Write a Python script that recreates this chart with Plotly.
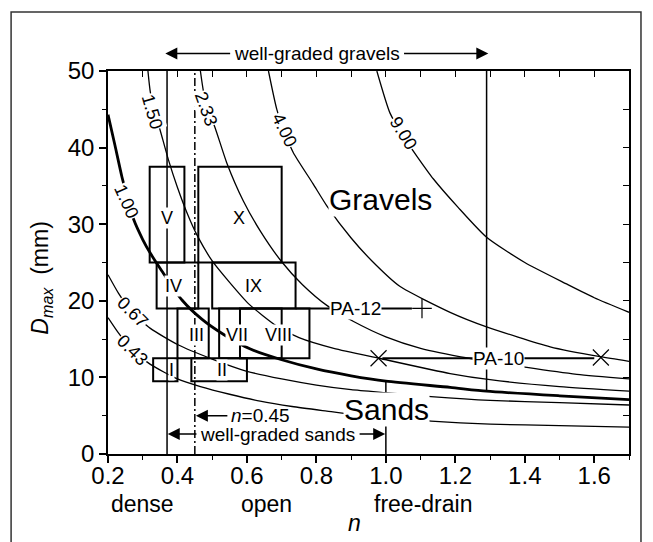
import plotly.graph_objects as go

FONT = "Liberation Sans, Arial, sans-serif"

# ---------------- data ----------------
# contour curves: porosity n vs Dmax (mm)
c900_n = [0.974, 1.012, 1.05, 1.089, 1.137, 1.208, 1.29, 1.40, 1.52, 1.60, 1.70]
c900_d = [50.0, 44.5, 41.5, 38.9, 35.9, 32.2, 28.3, 25.0, 22.2, 20.4, 18.5]

c400_n = [0.662, 0.686, 0.71, 0.734, 0.79, 0.83, 0.90, 0.96, 1.04, 1.185, 1.29, 1.473, 1.617, 1.70]
c400_d = [50.0, 45.0, 41.8, 39.3, 35.3, 32.4, 28.2, 25.2, 21.9, 18.5, 16.6, 14.0, 12.7, 12.1]

c233_n = [0.466, 0.475, 0.49, 0.509, 0.542, 0.590, 0.64, 0.70, 0.76, 0.83, 0.907, 1.0, 1.1, 1.24, 1.406, 1.55, 1.70]
c233_d = [50.0, 47.3, 44.7, 42.5, 38.0, 33.0, 29.0, 25.1, 22.1, 19.4, 17.3, 15.3, 13.8, 12.5, 11.3, 10.4, 9.8]

c150_n = [0.315, 0.322, 0.335, 0.35, 0.374, 0.40, 0.43, 0.456, 0.50, 0.55, 0.605, 0.686, 0.75, 0.85, 0.98, 1.185, 1.3, 1.5, 1.70]
c150_d = [50.0, 47.2, 44.6, 42.3, 38.4, 34.8, 31.2, 28.6, 25.2, 22.4, 19.6, 16.7, 15.2, 13.8, 12.5, 10.5, 9.7, 8.8, 8.2]

c100_n = [0.2, 0.22, 0.24, 0.257, 0.274, 0.30, 0.322, 0.355, 0.413, 0.47, 0.533, 0.61, 0.70, 0.80, 0.90, 1.0, 1.185, 1.29, 1.5, 1.70]
c100_d = [44.3, 40.3, 36.2, 33.3, 30.6, 28.0, 26.2, 23.9, 20.1, 17.6, 15.6, 13.7, 12.3, 11.1, 10.2, 9.5, 8.7, 8.2, 7.6, 7.1]

c067_n = [0.2, 0.23, 0.269, 0.322, 0.40, 0.50, 0.60, 0.70, 0.80, 0.90, 1.0, 1.13, 1.3, 1.5, 1.70]
c067_d = [23.4, 21.0, 18.5, 16.4, 14.3, 12.4, 10.8, 9.8, 9.0, 8.4, 8.0, 7.5, 7.0, 6.7, 6.4]

c043_n = [0.2, 0.23, 0.269, 0.322, 0.40, 0.466, 0.55, 0.638, 0.73, 0.83, 0.90, 1.0, 1.13, 1.3, 1.5, 1.70]
c043_d = [17.8, 15.8, 13.6, 11.7, 9.8, 8.8, 7.8, 6.9, 6.2, 5.6, 5.2, 4.8, 4.3, 3.9, 3.7, 3.5]

contour_labels = ["9.00", "4.00", "2.33", "1.50", "1.00", "0.67", "0.43"]

# gradation boxes
box_labels = ["I", "II", "III", "IV", "V", "VII", "VIII", "IX", "X"]
box_n0 = [0.33, 0.44, 0.40, 0.34, 0.32, 0.52, 0.58, 0.50, 0.46]
box_n1 = [0.40, 0.60, 0.49, 0.46, 0.42, 0.70, 0.78, 0.74, 0.70]
box_d0 = [9.5, 9.5, 12.5, 19.0, 25.0, 12.5, 12.5, 19.0, 25.0]
box_d1 = [12.5, 12.5, 19.0, 25.0, 37.5, 19.0, 19.0, 25.0, 37.5]

# reference vertical lines
vline_n = [0.37, 0.45, 1.0, 1.29]
vline_d0 = [0.0, 0.0, 0.0, 8.2]
vline_d1 = [50.0, 50.0, 9.4, 50.0]

# porous asphalt mixes
pa12_n = [0.74, 1.075]
pa12_d = [19.0, 19.0]
pa12_pt_n = [1.104]
pa12_pt_d = [19.0]
pa10_n = [0.99, 1.60]
pa10_d = [12.5, 12.5]
pa10_pt_n = [0.979, 1.619]
pa10_pt_d = [12.5, 12.6]

x_ticks = [0.2, 0.4, 0.6, 0.8, 1.0, 1.2, 1.4, 1.6]
x_ticktext = ["0.2", "0.4", "0.6", "0.8", "1.0", "1.2", "1.4", "1.6"]
y_ticks = [0, 10, 20, 30, 40, 50]

# ---------------- figure ----------------
fig = go.Figure()

curves = [(c900_n, c900_d, 1.3), (c400_n, c400_d, 1.3), (c233_n, c233_d, 1.3),
          (c150_n, c150_d, 1.3), (c100_n, c100_d, 2.8), (c067_n, c067_d, 1.3),
          (c043_n, c043_d, 1.3)]
for xs, ys, w in curves:
    fig.add_trace(go.Scatter(x=xs, y=ys, mode="lines",
                             line=dict(color="black", width=w, shape="spline", smoothing=0.6),
                             showlegend=False, hoverinfo="skip"))

for i, xv in enumerate(vline_n):
    fig.add_trace(go.Scatter(x=[xv, xv], y=[vline_d0[i], vline_d1[i]], mode="lines",
                             line=dict(color="black", width=1.5,
                                       dash="8px,3px,2px,3px" if xv == 0.45 else "solid"),
                             showlegend=False, hoverinfo="skip"))

fig.add_trace(go.Scatter(x=pa12_n, y=pa12_d, mode="lines", line=dict(color="black", width=2),
                         showlegend=False, hoverinfo="skip"))
fig.add_trace(go.Scatter(x=pa12_pt_n, y=pa12_pt_d, mode="markers",
                         marker=dict(symbol="cross-thin", size=14, line=dict(color="black", width=1.2)),
                         showlegend=False, hoverinfo="skip"))
fig.add_trace(go.Scatter(x=pa10_n, y=pa10_d, mode="lines", line=dict(color="black", width=2),
                         showlegend=False, hoverinfo="skip"))
fig.add_trace(go.Scatter(x=pa10_pt_n, y=pa10_pt_d, mode="markers",
                         marker=dict(symbol="x-thin", size=16, line=dict(color="black", width=1.2)),
                         showlegend=False, hoverinfo="skip"))

# dummy trace for mirrored (top/right) axes
fig.add_trace(go.Scatter(x=[None], y=[None], xaxis="x2", yaxis="y2", showlegend=False, hoverinfo="skip"))

for i in range(len(box_labels)):
    fig.add_shape(type="rect", xref="x", yref="y", x0=box_n0[i], x1=box_n1[i],
                  y0=box_d0[i], y1=box_d1[i], line=dict(color="black", width=2), layer="above")

# box labels
box_lab_pos = {"I": (0.384, 11.0), "II": (0.528, 11.0), "III": (0.456, 15.5), "IV": (0.389, 21.9),
               "V": (0.37, 30.8), "VII": (0.571, 15.6), "VIII": (0.691, 15.5), "IX": (0.619, 21.9),
               "X": (0.576, 30.8)}
for lab in box_labels:
    px, py = box_lab_pos[lab]
    fig.add_annotation(x=px, y=py, text=lab, showarrow=False, bgcolor="white", borderpad=0,
                       font=dict(family=FONT, size=18, color="black"))

# contour labels
cl_pos = {"9.00": (1.05, 41.9, 58), "4.00": (0.708, 42.3, 64), "2.33": (0.482, 45.0, 70),
          "1.50": (0.328, 44.7, 74), "1.00": (0.252, 33.0, 66), "0.67": (0.27, 18.5, 45),
          "0.43": (0.27, 13.6, 45)}
for lab in contour_labels:
    px, py, ang = cl_pos[lab]
    fig.add_annotation(x=px, y=py, text=lab, showarrow=False, textangle=ang, bgcolor="white",
                       borderpad=0, font=dict(family=FONT, size=18, color="black"))

# region words
fig.add_annotation(x=0.985, y=33.2, text="Gravels", showarrow=False, bgcolor="white", borderpad=0,
                   font=dict(family=FONT, size=30, color="black"))
fig.add_annotation(x=1.003, y=5.85, text="Sands", showarrow=False, bgcolor="white", borderpad=0,
                   font=dict(family=FONT, size=30, color="black"))
fig.add_annotation(x=0.913, y=19.0, text="PA-12", showarrow=False, bgcolor="white", borderpad=0,
                   font=dict(family=FONT, size=19, color="black"))
fig.add_annotation(x=1.324, y=12.5, text="PA-10", showarrow=False, bgcolor="white", borderpad=0,
                   font=dict(family=FONT, size=19, color="black"))


def arrow(tip, tail, yv, yref="y"):
    fig.add_annotation(x=tip, y=yv, ax=tail, ay=yv if yref == "y" else 0, xref="x", yref=yref,
                       axref="x", ayref="y" if yref == "y" else "pixel",
                       text="", showarrow=True, arrowhead=2, arrowsize=1.6, arrowwidth=1.5,
                       arrowcolor="black")


# well-graded gravels (above the plot area, paper y)
TOP_Y = 1.046
fig.add_annotation(x=0.802, y=TOP_Y, yref="paper", yanchor="middle", text="well-graded gravels",
                   showarrow=False, font=dict(family=FONT, size=19, color="black"))
arrow(0.365, 0.556, TOP_Y, "paper")
arrow(1.295, 1.048, TOP_Y, "paper")
# well-graded sands
fig.add_annotation(x=0.689, y=2.6, text="well-graded sands", showarrow=False,
                   font=dict(family=FONT, size=19, color="black"))
arrow(0.372, 0.459, 2.6)
arrow(0.998, 0.92, 2.6)
# n = 0.45
fig.add_annotation(x=0.64, y=5.05, text="<i>n</i>=0.45", showarrow=False,
                   font=dict(family=FONT, size=19, color="black"))
arrow(0.453, 0.548, 5.0)

# axis category words (below the axis, paper y)
for txt, xv in [("dense", 0.30), ("open", 0.657), ("free-drain", 1.106)]:
    fig.add_annotation(x=xv, y=-0.130, yref="paper", text=txt, showarrow=False, yanchor="middle",
                       font=dict(family=FONT, size=23, color="black"))
fig.add_annotation(x=0.909, y=-0.179, yref="paper", text="<i>n</i>", showarrow=False,
                   yanchor="middle", font=dict(family=FONT, size=23, color="black"))
fig.add_annotation(x=-0.127, xref="paper", y=0.46, yref="paper",
                   text="<i>D</i><sub><i>max</i></sub>  (mm)", xanchor="center", yanchor="middle",
                   showarrow=False, textangle=-90, font=dict(family=FONT, size=23, color="black"))

# outer frame
fig.add_shape(type="rect", xref="paper", yref="paper", x0=-0.186, x1=1.023, y0=-0.3, y1=1.154,
              line=dict(color="#333", width=1.5), layer="above")

fig.update_layout(
    width=645, height=534,
    margin=dict(l=100, r=24, t=63, b=88),
    paper_bgcolor="white", plot_bgcolor="white",
    showlegend=False,
    font=dict(family=FONT, color="black"),
    xaxis=dict(range=[0.2, 1.7], tickvals=x_ticks, ticktext=x_ticktext, ticks="outside",
               ticklen=7, tickwidth=1.5, tickcolor="black", showline=True, linecolor="black",
               linewidth=1.5, showgrid=False, zeroline=False, ticklabelstandoff=-8,
               tickfont=dict(family=FONT, size=24, color="black"),
               minor=dict(dtick=0.1, tick0=0.2, ticks="outside", ticklen=4, tickwidth=1.2,
                          tickcolor="black", showgrid=False)),
    yaxis=dict(range=[0, 50], tickvals=y_ticks, ticks="outside", ticklen=7, tickwidth=1.5,
               tickcolor="black", showline=True, linecolor="black", linewidth=1.5,
               showgrid=False, zeroline=False,
               tickfont=dict(family=FONT, size=24, color="black"),
               minor=dict(dtick=5, tick0=0, ticks="outside", ticklen=4, tickwidth=1.2,
                          tickcolor="black", showgrid=False)),
    xaxis2=dict(range=[0.2, 1.7], overlaying="x", side="top", anchor="y", ticks="inside",
                dtick=0.1, tick0=0.2, ticklen=6, tickwidth=1.2, tickcolor="black",
                showticklabels=False, showline=True, linecolor="black", linewidth=1.5,
                showgrid=False, zeroline=False),
    yaxis2=dict(range=[0, 50], overlaying="y", side="right", anchor="x", ticks="inside",
                dtick=5, tick0=0, ticklen=6, tickwidth=1.2, tickcolor="black",
                showticklabels=False, showline=True, linecolor="black", linewidth=1.5,
                showgrid=False, zeroline=False),
)

fig.write_html("out.html")
